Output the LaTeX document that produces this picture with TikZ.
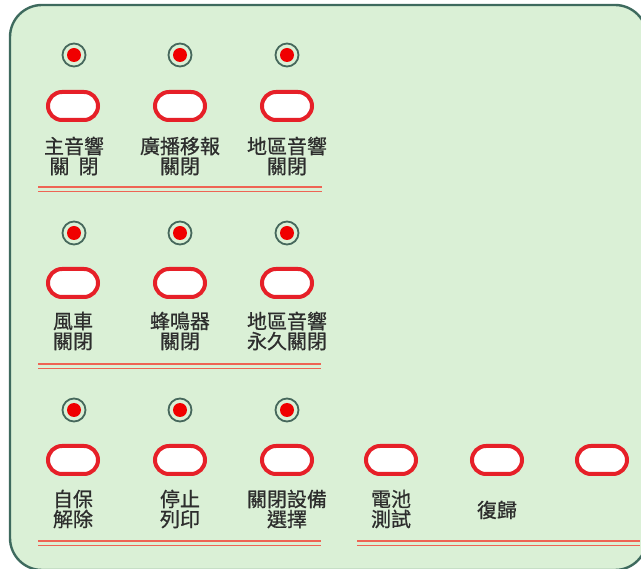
\documentclass[tikz,border=0pt]{standalone}
\usepackage{fontspec}
\newfontfamily\cjk[FakeBold=0.7]{Noto Sans CJK TC}
\definecolor{panelbg}{RGB}{218,240,214}
\definecolor{panelrim}{RGB}{62,106,94}
\definecolor{ledrim}{RGB}{70,104,92}
\definecolor{ledred}{RGB}{240,0,0}
\definecolor{btnred}{RGB}{230,32,40}
\definecolor{lblgray}{RGB}{45,45,45}
\definecolor{rulered}{RGB}{238,100,84}
\begin{document}
\begin{tikzpicture}[x=1pt,y=-1pt,
  panel/.style={draw=panelrim,line width=2.4pt,fill=panelbg,rounded corners=32pt},
  ledring/.style={circle,draw=ledrim,line width=1.8pt,fill=panelbg,minimum size=23pt,inner sep=0pt},
  leddot/.style={circle,fill=ledred,minimum size=14pt,inner sep=0pt},
  button/.style={rectangle,draw=btnred,line width=4pt,fill=white,rounded corners=14pt,minimum width=50pt,minimum height=28pt,inner sep=0pt},
  lbl/.style={align=center,inner sep=0pt,text=lblgray,font=\cjk\fontsize{20}{20}\selectfont},
  rule/.style={draw=rulered,line width=1.7pt,double=panelbg,double distance=2.6pt}
]
\useasboundingbox (0,0) rectangle (641,569);
\clip (0,0) rectangle (641,569);
\draw[panel] (10,5) rectangle (647,570);

% LEDs
\foreach \r/\y in {1/55,2/233,3/410}{
  \foreach \c/\x in {1/74,2/180,3/287}{
    \node[ledring] (led\r\c) at (\x,\y) {};
    \node[leddot] (dot\r\c) at (led\r\c) {};
  }
}

% Buttons
\foreach \r/\y in {1/106,2/283,3/460}{
  \foreach \c/\x in {1/73,2/180,3/287}{
    \node[button] (btn\r\c) at (\x,\y) {};
  }
}
\node[button] (btn34) at (391,460) {};
\node[button] (btn35) at (497,460) {};
\node[button] (btn36) at (602,460) {};

% Labels
\node[lbl] (lab11) at (74,156) {主音響\\關\hspace{0.45em}閉};
\node[lbl] (lab12) at (180,156) {廣播移報\\關閉};
\node[lbl] (lab13) at (287,156) {地區音響\\關閉};
\node[lbl] (lab21) at (73,331) {風車\\關閉};
\node[lbl] (lab22) at (180,331) {蜂鳴器\\關閉};
\node[lbl] (lab23) at (287,331) {地區音響\\永久關閉};
\node[lbl] (lab31) at (73,509) {自保\\解除};
\node[lbl] (lab32) at (180,509) {停止\\列印};
\node[lbl] (lab33) at (287,509) {關閉設備\\選擇};
\node[lbl] (lab34) at (391,509) {電池\\測試};
\node[lbl] (lab35) at (497,510) {復歸};

% Double rules
\coordinate (ra1) at (38,189.5);  \coordinate (rb1) at (322,189.5);
\coordinate (ra2) at (38,366.5);  \coordinate (rb2) at (321,366.5);
\coordinate (ra3) at (38,543.3);  \coordinate (rb3) at (321,543.3);
\coordinate (ra4) at (357,543.3); \coordinate (rb4) at (640,543.3);
\draw[rule] (ra1) -- (rb1);
\draw[rule] (ra2) -- (rb2);
\draw[rule] (ra3) -- (rb3);
\draw[rule] (ra4) -- (rb4);
\end{tikzpicture}
\end{document}
